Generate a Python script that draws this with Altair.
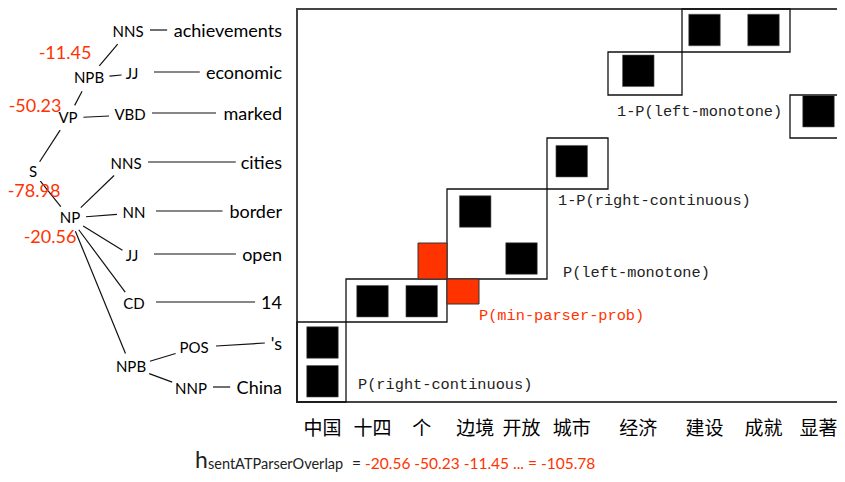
import math
import altair as alt
import pandas as pd

# ---------------- data ----------------
zh_words = ["中国", "十四", "个", "边境", "开放", "城市", "经济", "建设", "成就", "显著"]
en_words = ["achievements", "economic", "marked", "cities", "border", "open", "14", "'s", "China"]

# word alignment links: (chinese index, english index)
link_zh = [0, 0, 1, 2, 3, 4, 5, 6, 7, 8, 9]
link_en = [8, 7, 6, 6, 4, 5, 3, 1, 0, 0, 2]

# phrase blocks (chinese span, english span)
block_zh_lo = [0, 1, 3, 5, 6, 7, 9]
block_zh_hi = [0, 2, 4, 5, 6, 8, 9]
block_en_lo = [7, 6, 4, 3, 1, 0, 2]
block_en_hi = [8, 6, 5, 3, 1, 0, 2]

# block annotations
ann_text = ["P(right-continuous)", "P(left-monotone)", "1-P(right-continuous)",
            "1-P(left-monotone)", "P(min-parser-prob)"]
ann_red = [False, False, False, False, True]

# parse tree
tree_label = ["S", "VP", "NPB", "NNS", "JJ", "VBD", "NP", "NNS", "NN", "JJ", "CD", "NPB", "POS", "NNP"]
tree_parent = [-1, 0, 1, 2, 2, 1, 0, 6, 6, 6, 6, 6, 11, 11]
tree_leaf = [-1, -1, -1, 0, 1, 2, -1, 3, 4, 5, 6, -1, 7, 8]   # index into en_words
score_node = [2, 1, 0, 6]
score_value = [-11.45, -50.23, -78.98, -20.56]

formula_terms = [-20.56, -50.23, -11.45]
formula_total = -105.78

# ---------------- layout (page pixels) ----------------
W, H = 829, 466
col_edges = [297, 346, 397, 447, 497, 547, 608, 682, 735, 790, 850]
row_edges = [9, 52, 95, 138, 189, 235, 279, 322, 362, 402]
col_c = [322.5, 372.5, 421.7, 475.2, 521.5, 571.7, 638.3, 704.5, 763.5, 818.5]
row_c = [30, 70.8, 111.2, 161.2, 211.5, 258.5, 301.2, 342.5, 381.3]
SQ = 31.5
zh_label_y = 429

node_x = [33, 68, 89, 128, 132, 130, 70, 126, 134, 132, 134, 131, 194, 191]
node_y = [172, 118, 78, 32, 74, 115, 218, 164, 213, 256, 304, 367, 348, 389]
word_y = [32, 74, 115, 164, 213, 256, 304, 345, 389]
WORD_RIGHT = 282
score_dx = [-24, -33, 1, -20]
score_dy = [-24, -11, 20, 20]
ann_x = [358, 563, 558, 617, 479]
ann_y = [384, 272, 200, 111, 315]

RED = "#ff3300"
SANS = "Lato"
MONO = "Liberation Mono"
CJK = "Noto Sans CJK SC"

lower_w = {"a": .507, "b": .566, "c": .459, "d": .566, "e": .531, "h": .566, "i": .238,
           "k": .51, "m": .85, "n": .566, "o": .566, "p": .566, "r": .37, "s": .42,
           "t": .35, "v": .5, "l": .24, "C": .67, "'": .2, "1": .58, "4": .58}
caps_w = {"N": .74, "S": .5, "P": .6, "B": .62, "V": .66, "D": .72, "J": .3, "C": .67, "O": .77}


def text_w(s, fs, table):
    return sum(table.get(ch, .55) for ch in s) * fs


def gap(i, ux, uy):
    a = text_w(tree_label[i], 15, caps_w) / 2 + 6
    b = 14
    return 1 / math.sqrt((ux / a) ** 2 + (uy / b) ** 2)


# ---------------- tables ----------------
frame = pd.DataFrame({"x": [col_edges[0]], "x2": [col_edges[-1]],
                      "y": [row_edges[0]], "y2": [row_edges[-1]]})
blocks = pd.DataFrame({
    "x": [col_edges[i] for i in block_zh_lo],
    "x2": [col_edges[i + 1] for i in block_zh_hi],
    "y": [row_edges[i] for i in block_en_lo],
    "y2": [row_edges[i + 1] for i in block_en_hi],
})
cx, cy = col_edges[3], row_edges[6]
red_cells = pd.DataFrame({"x": [cx - 29, cx], "x2": [cx, cx + 32],
                          "y": [cy - 36, cy], "y2": [cy, cy + 25]})
squares = pd.DataFrame({
    "x": [col_c[i] - SQ / 2 for i in link_zh], "x2": [col_c[i] + SQ / 2 for i in link_zh],
    "y": [row_c[j] - SQ / 2 for j in link_en], "y2": [row_c[j] + SQ / 2 for j in link_en],
})
ann = pd.DataFrame({"x": ann_x, "y": ann_y, "t": ann_text, "red": ann_red})
zh = pd.DataFrame({"x": col_c, "y": [zh_label_y] * len(zh_words), "t": zh_words})

edges = []
for i, p in enumerate(tree_parent):
    if p < 0:
        continue
    dx, dy = node_x[i] - node_x[p], node_y[i] - node_y[p]
    d = math.hypot(dx, dy)
    ux, uy = dx / d, dy / d
    gp, gc = gap(p, ux, uy), gap(i, ux, uy)
    edges.append({"x": node_x[p] + ux * gp, "y": node_y[p] + uy * gp,
                  "x2": node_x[i] - ux * gc, "y2": node_y[i] - uy * gc})
for i, w in enumerate(tree_leaf):
    if w < 0:
        continue
    left = WORD_RIGHT - text_w(en_words[w], 18, lower_w)
    edges.append({"x": node_x[i] + 22, "y": node_y[i] - 2,
                  "x2": left - 6, "y2": word_y[w] - 2})
edges = pd.DataFrame(edges)

tags = pd.DataFrame({"x": node_x, "y": node_y, "t": tree_label})
words = pd.DataFrame({"x": [WORD_RIGHT] * len(en_words), "y": word_y, "t": en_words})
scores = pd.DataFrame({
    "x": [node_x[n] + dx for n, dx in zip(score_node, score_dx)],
    "y": [node_y[n] + dy for n, dy in zip(score_node, score_dy)],
    "t": [f"{v:.2f}" for v in score_value],
})
red_formula = " ".join(f"{v:.2f}" for v in formula_terms) + f" ... = {formula_total:.2f}"
formula = pd.DataFrame({
    "x": [195, 208, 352, 365], "y": [467.5, 469, 468.5, 468.5],
    "t": ["h", "sentATParserOverlap", "=", red_formula],
    "size": [23, 14.5, 15.5, 15.5],
    "c": ["black", "black", "black", "red"],
})

# ---------------- chart ----------------
xs = alt.Scale(domain=[8, 8 + W], range=[0, W], nice=False, zero=False)
ys = alt.Scale(domain=[8, 8 + H], range=[0, H], nice=False, zero=False)
X = alt.X("x:Q", scale=xs, axis=None)
Y = alt.Y("y:Q", scale=ys, axis=None)

layers = []
layers.append(alt.Chart(frame).mark_rect(fillOpacity=0, stroke="#444", strokeWidth=2)
              .encode(x=X, x2="x2:Q", y=Y, y2="y2:Q"))
layers.append(alt.Chart(blocks).mark_rect(fillOpacity=0, stroke="#111", strokeWidth=1.3)
              .encode(x=X, x2="x2:Q", y=Y, y2="y2:Q"))
layers.append(alt.Chart(red_cells).mark_rect(fill=RED, stroke="#333", strokeWidth=1)
              .encode(x=X, x2="x2:Q", y=Y, y2="y2:Q"))
layers.append(alt.Chart(squares).mark_rect(fill="black", stroke="#555", strokeWidth=0.6)
              .encode(x=X, x2="x2:Q", y=Y, y2="y2:Q"))
layers.append(alt.Chart(ann).mark_text(font=MONO, fontSize=15.3, align="left", baseline="middle")
              .encode(x=X, y=Y, text="t:N",
                      color=alt.Color("red:N", scale=alt.Scale(domain=[False, True], range=["#222", RED]),
                                      legend=None)))
layers.append(alt.Chart(zh).mark_text(font=CJK, fontSize=19, align="center", baseline="middle", color="black")
              .encode(x=X, y=Y, text="t:N"))
layers.append(alt.Chart(edges).mark_rule(color="#111", strokeWidth=1.2)
              .encode(x=X, y=Y, x2="x2:Q", y2="y2:Q"))
layers.append(alt.Chart(tags).mark_text(font=SANS, fontSize=15, align="center", baseline="middle", color="black")
              .encode(x=X, y=Y, text="t:N"))
layers.append(alt.Chart(words).mark_text(font=SANS, fontSize=18, align="right", baseline="middle", color="black")
              .encode(x=X, y=Y, text="t:N"))
layers.append(alt.Chart(scores).mark_text(font=SANS, fontSize=18, align="center", baseline="middle", color=RED)
              .encode(x=X, y=Y, text="t:N"))
layers.append(alt.Chart(formula).mark_text(font=SANS, align="left", baseline="alphabetic")
              .encode(x=X, y=Y, text="t:N",
                      size=alt.Size("size:Q", scale=None, legend=None),
                      color=alt.Color("c:N", scale=alt.Scale(domain=["black", "red"], range=["black", RED]),
                                      legend=None)))

chart = alt.layer(*layers).properties(
    width=W, height=H, padding=0, autosize=alt.AutoSizeParams(type="none")
).configure_view(stroke=None)

chart.save("out.html", embed_options={"renderer": "svg", "actions": False})
